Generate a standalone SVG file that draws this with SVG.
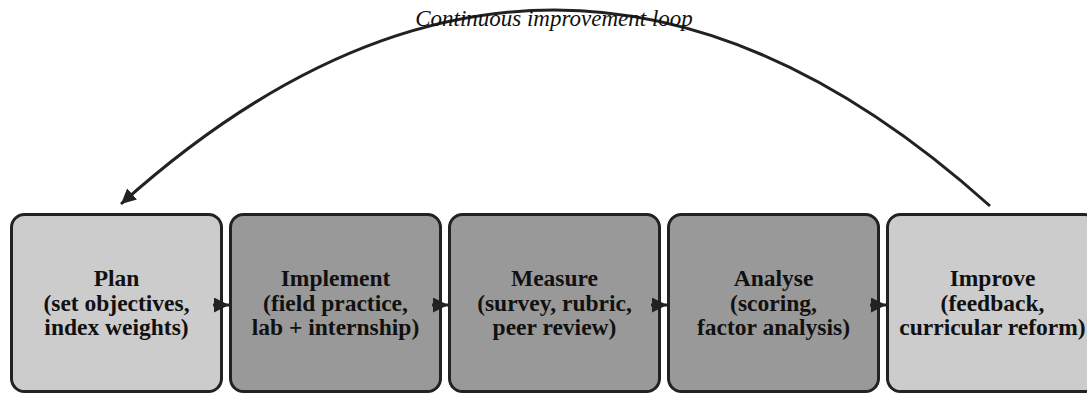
<svg xmlns="http://www.w3.org/2000/svg" width="1087" height="393" viewBox="0 0 1087 393">
<style>
.box{stroke:#222;stroke-width:3}
.light{fill:#cccccc}
.dark{fill:#999999}
.lbl{font-family:"Liberation Serif",serif;font-weight:bold;font-size:23.5px;fill:#111;text-anchor:middle}
.edge{stroke:#222;stroke-width:3;fill:none}
.loop{font-family:"Liberation Serif",serif;font-style:italic;font-size:23px;fill:#111;text-anchor:middle}
</style>
<defs>
<marker id="ah" viewBox="0 0 10 10" refX="10" refY="5" markerWidth="5" markerHeight="5" markerUnits="strokeWidth" orient="auto">
<path d="M0,0 L10,5 L0,10 z" fill="#222"/>
</marker>
</defs>
<g id="plan">
<rect class="box light" x="11.5" y="214.5" width="210" height="177" rx="13"/>
<text class="lbl" x="116.5" y="286">Plan</text>
<text class="lbl" x="116.5" y="310.5">(set objectives,</text>
<text class="lbl" x="116.5" y="335">index weights)</text>
</g>
<g id="implement">
<rect class="box dark" x="230.5" y="214.5" width="210" height="177" rx="13"/>
<text class="lbl" x="335.5" y="286">Implement</text>
<text class="lbl" x="335.5" y="310.5">(field practice,</text>
<text class="lbl" x="335.5" y="335">lab + internship)</text>
</g>
<g id="measure">
<rect class="box dark" x="449.5" y="214.5" width="210" height="177" rx="13"/>
<text class="lbl" x="554.5" y="286">Measure</text>
<text class="lbl" x="554.5" y="310.5">(survey, rubric,</text>
<text class="lbl" x="554.5" y="335">peer review)</text>
</g>
<g id="analyse">
<rect class="box dark" x="668.5" y="214.5" width="210" height="177" rx="13"/>
<text class="lbl" x="773.5" y="286">Analyse</text>
<text class="lbl" x="773.5" y="310.5">(scoring,</text>
<text class="lbl" x="773.5" y="335">factor analysis)</text>
</g>
<g id="improve">
<rect class="box light" x="887.5" y="214.5" width="210" height="177" rx="13"/>
<text class="lbl" x="992.5" y="286">Improve</text>
<text class="lbl" x="992.5" y="310.5">(feedback,</text>
<text class="lbl" x="992.5" y="335">curricular reform)</text>
</g>
<g id="connectors">
<path class="edge" d="M990,206 Q555,-185 121,204" marker-end="url(#ah)"/>
<line class="edge" x1="213" y1="305" x2="229" y2="305" marker-end="url(#ah)"/>
<line class="edge" x1="432" y1="305" x2="448" y2="305" marker-end="url(#ah)"/>
<line class="edge" x1="651" y1="305" x2="667" y2="305" marker-end="url(#ah)"/>
<line class="edge" x1="870" y1="305" x2="886" y2="305" marker-end="url(#ah)"/>
<text class="loop" x="554" y="26">Continuous improvement loop</text>
</g>
</svg>
